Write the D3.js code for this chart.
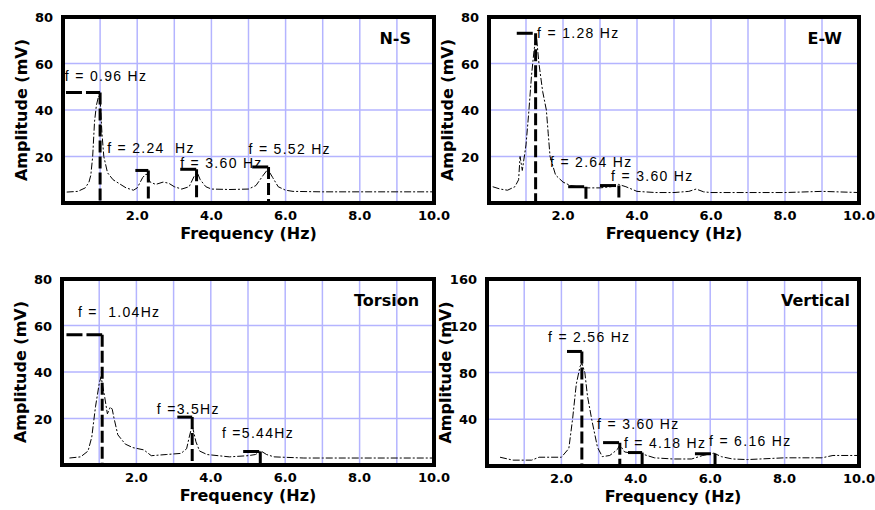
<html>
<script src="https://d3js.org/d3.v7.min.js"></script>
<style>
  body { margin: 0; background: #fff; }
  .tick-label { font-family: "DejaVu Sans", sans-serif; font-weight: bold; font-size: 13px; }
  .axis-title { font-family: "DejaVu Sans", sans-serif; font-weight: bold; font-size: 16px; }
  .panel-title { font-family: "DejaVu Sans", sans-serif; font-weight: bold; font-size: 16px; }
  .peak-label { font-family: "Liberation Sans", Arial, sans-serif; font-size: 14px; letter-spacing: 1.3px; white-space: pre; }
</style>
<body onload="init()">
<svg width="875" height="510"></svg>
<script>
// common axis values
const xTicks = [2, 4, 6, 8, 10];
const xGrid = [1, 2, 3, 4, 5, 6, 7, 8, 9];

// N-S spectrum
const nsFreq = [0.1,0.4,0.6,0.7,0.75,0.8,0.85,0.9,0.96,1.0,1.05,1.1,1.2,1.35,1.5,1.7,1.9,2.0,2.15,2.24,2.35,2.5,2.7,2.85,3.0,3.2,3.4,3.55,3.62,3.7,3.85,4.0,4.5,5.0,5.2,5.4,5.52,5.65,5.8,6.0,6.2,7,8,9,10];
const nsAmp  = [4.7,5.0,6.5,9,12,20,35,42,46,45,30,20,13,10,8.5,6.5,5.5,6.5,11,12.5,9,8,9,8.5,7,6,7,12,13,10,7,6,5.8,6,7.5,12,14.5,11,7,5.5,5,4.8,4.8,4.8,4.8];
const nsMarkFreq = [1.0, 2.3, 3.6, 5.54];
const nsMarkFrom = [0.08, 1.95, 3.16, 5.1];
const nsMarkAmp  = [47.5, 14, 14.5, 15.5];
const nsLabels   = ["f = 0.96 Hz", "f = 2.24  Hz", "f = 3.60 Hz", "f = 5.52 Hz"];
const nsLabelFreq = [0.05, 1.19, 3.16, 5.0];
const nsLabelAmp  = [52.5, 21.5, 15, 21];

// E-W spectrum
const ewFreq = [0.1,0.3,0.5,0.7,0.8,0.84,0.9,1.0,1.07,1.15,1.22,1.28,1.35,1.45,1.55,1.6,1.65,1.8,2.0,2.2,2.6,3.0,3.3,3.5,3.7,4.0,4.5,5.0,5.4,5.6,5.8,6.0,7,8,9,10];
const ewAmp  = [7,6,5.5,7,10,20,14,25,38,55,66,72,60,48,40,30,20,12,9,7.5,6.5,6.5,7,8,7,5,4.5,4.5,5,6,4.8,4.5,4.5,4.5,5,4.5];
const ewMarkFreq = [1.26, 2.62, 3.51];
const ewMarkFrom = [0.75, 2.14, 3.0];
const ewMarkAmp  = [73, 7, 7.5];
const ewLabels   = ["f = 1.28 Hz", "f = 2.64 Hz", "f = 3.60 Hz"];
const ewLabelFreq = [1.3, 1.65, 3.3];
const ewLabelAmp  = [71, 15.5, 9.5];

// Torsion spectrum
const toFreq = [0.2,0.5,0.7,0.8,0.9,1.0,1.05,1.15,1.22,1.3,1.35,1.4,1.5,1.7,1.9,2.2,2.4,2.8,3.2,3.35,3.42,3.5,3.6,3.7,3.9,4.5,5.0,5.2,5.35,5.5,5.7,6.5,7,8,10];
const toAmp  = [3,3.5,6,12,25,35,38,29,22,25,24,20,13,9,7.5,6.5,4,4.5,5,7,12,17,10,6,4.5,3.5,4,4.5,6,4.5,3.5,3,3,3,3];
const toMarkFreq = [1.08, 3.5, 5.33];
const toMarkFrom = [0.12, 3.1, 4.87];
const toMarkAmp  = [56, 20.6, 5.8];
const toLabels   = ["f =  1.04Hz", "f =3.5Hz", "f =5.44Hz"];
const toLabelFreq = [0.43, 2.55, 4.3];
const toLabelAmp  = [63.5, 22, 11.6];

// Vertical spectrum
const veFreq = [0.35,0.7,1.2,1.4,2.0,2.2,2.3,2.4,2.5,2.55,2.63,2.7,2.82,2.97,3.1,3.3,3.5,3.57,3.7,3.9,4.1,4.3,4.5,5.0,5.5,5.8,6.1,6.3,6.6,7.0,8.0,9.0,9.3,10];
const veAmp  = [7.5,5,5,7.5,7.5,15,40,70,85,88,80,60,39,16,8,9,14,18,12,11,11,9,7,6,6,9,11,8,6,5.5,7,7,9,9];
const veMarkFreq = [2.55, 3.57, 4.17, 6.13];
const veMarkFrom = [2.15, 3.12, 3.79, 5.59];
const veMarkAmp  = [98, 20, 11.5, 10.5];
const veLabels   = ["f = 2.56 Hz", "f = 3.60 Hz", "f = 4.18 Hz", "f = 6.16 Hz"];
const veLabelFreq = [1.64, 2.96, 3.68, 5.97];
const veLabelAmp  = [106, 31.5, 15.4, 17];

function init() {
  var svg = d3.select("svg");

  var panels = [
    {title: "N-S", left: 63, right: 434, top: 17, bottom: 203, yMax: 80, yTicks: [20,40,60,80],
     freq: nsFreq, amp: nsAmp, mf: nsMarkFreq, m0: nsMarkFrom, ma: nsMarkAmp, lab: nsLabels, lf: nsLabelFreq, la: nsLabelAmp, titleX: 9.38},
    {title: "E-W", left: 489, right: 859, top: 17, bottom: 203, yMax: 80, yTicks: [20,40,60,80],
     freq: ewFreq, amp: ewAmp, mf: ewMarkFreq, m0: ewMarkFrom, ma: ewMarkAmp, lab: ewLabels, lf: ewLabelFreq, la: ewLabelAmp, titleX: 9.54},
    {title: "Torsion", left: 62, right: 434, top: 279, bottom: 465, yMax: 80, yTicks: [20,40,60,80],
     freq: toFreq, amp: toAmp, mf: toMarkFreq, m0: toMarkFrom, ma: toMarkAmp, lab: toLabels, lf: toLabelFreq, la: toLabelAmp, titleX: 9.6},
    {title: "Vertical", left: 487, right: 859, top: 279, bottom: 466, yMax: 160, yTicks: [40,80,120,160],
     freq: veFreq, amp: veAmp, mf: veMarkFreq, m0: veMarkFrom, ma: veMarkAmp, lab: veLabels, lf: veLabelFreq, la: veLabelAmp, titleX: 9.76}
  ];

  panels.forEach(function(p) {
    var x = d3.scaleLinear().domain([0, 10]).range([p.left, p.right]);
    var y = d3.scaleLinear().domain([0, p.yMax]).range([p.bottom, p.top]);
    var g = svg.append("g");

    // grid
    g.selectAll(".vg").data(xGrid).enter().append("line")
      .attr("x1", d => x(d)).attr("x2", d => x(d))
      .attr("y1", p.top).attr("y2", p.bottom)
      .attr("stroke", "#b4b4ff").attr("stroke-width", 1.5);
    g.selectAll(".hg").data(p.yTicks.slice(0, -1)).enter().append("line")
      .attr("x1", p.left).attr("x2", p.right)
      .attr("y1", d => y(d)).attr("y2", d => y(d))
      .attr("stroke", "#b4b4ff").attr("stroke-width", 1.5);

    // spectrum curve
    var pts = p.freq.map((f, i) => [f, p.amp[i]]);
    g.append("path").datum(pts)
      .attr("d", d3.line().x(d => x(d[0])).y(d => y(d[1])))
      .attr("fill", "none").attr("stroke", "#000").attr("stroke-width", 1)
      .attr("stroke-dasharray", "7,2,2,2");

    // peak markers
    p.mf.forEach(function(f, i) {
      g.append("line")
        .attr("x1", x(p.m0[i])).attr("x2", x(f))
        .attr("y1", y(p.ma[i])).attr("y2", y(p.ma[i]))
        .attr("stroke", "#000").attr("stroke-width", 3).attr("stroke-dasharray", "16,4");
      g.append("line")
        .attr("x1", x(f)).attr("x2", x(f))
        .attr("y1", y(p.ma[i])).attr("y2", y(0))
        .attr("stroke", "#000").attr("stroke-width", 3).attr("stroke-dasharray", "12,4");
      g.append("text").attr("class", "peak-label")
        .attr("x", x(p.lf[i])).attr("y", y(p.la[i]))
        .text(p.lab[i]);
    });

    // frame
    g.append("rect")
      .attr("x", p.left).attr("y", p.top)
      .attr("width", p.right - p.left).attr("height", p.bottom - p.top)
      .attr("fill", "none").attr("stroke", "#000").attr("stroke-width", 4);

    // tick labels
    g.selectAll(".xt").data(xTicks).enter().append("text").attr("class", "tick-label")
      .attr("x", d => x(d)).attr("y", p.bottom + 17)
      .attr("text-anchor", "middle").text(d => d3.format(".1f")(d));
    g.selectAll(".yt").data(p.yTicks).enter().append("text").attr("class", "tick-label")
      .attr("x", p.left - 10).attr("y", d => y(d) + 5)
      .attr("text-anchor", "end").text(d => d);

    // titles
    g.append("text").attr("class", "axis-title")
      .attr("x", (p.left + p.right) / 2).attr("y", p.bottom + 36)
      .attr("text-anchor", "middle").text("Frequency (Hz)");
    g.append("text").attr("class", "axis-title")
      .attr("transform", "translate(" + (p.left - 36) + "," + ((p.top + p.bottom) / 2) + ") rotate(-90)")
      .attr("text-anchor", "middle").text("Amplitude (mV)");
    g.append("text").attr("class", "panel-title")
      .attr("x", x(p.titleX)).attr("y", y(p.yMax * 0.855))
      .attr("text-anchor", "end").text(p.title);
  });
}
</script>
</body>
</html>
